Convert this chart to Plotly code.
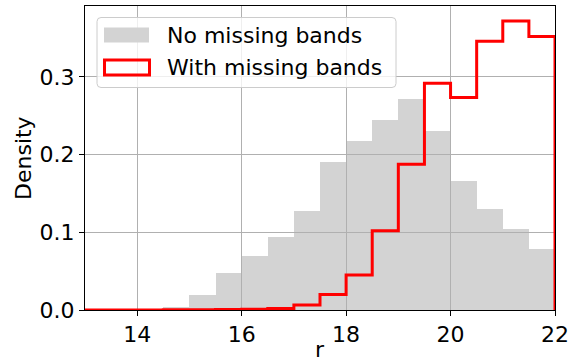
import numpy as np
import plotly.graph_objects as go

# Histogram bin edges (r magnitude) and densities
bin_edges = [13.0, 13.5, 14.0, 14.5, 15.0, 15.5, 16.0, 16.5, 17.0, 17.5,
             18.0, 18.5, 19.0, 19.5, 20.0, 20.5, 21.0, 21.5, 22.0]
no_missing = [0.0, 0.0, 0.0005, 0.004, 0.019, 0.048, 0.070, 0.094, 0.128,
              0.191, 0.218, 0.245, 0.272, 0.230, 0.166, 0.130, 0.104, 0.079]
with_missing = [0.0, 0.0, 0.0, 0.0003, 0.0004, 0.0005, 0.001, 0.002, 0.0065,
                0.020, 0.045, 0.102, 0.1875, 0.292, 0.2735, 0.346, 0.372, 0.352]
x_ticks = [14, 16, 18, 20, 22]
y_ticks = [0.0, 0.1, 0.2, 0.3]
labels = ["No missing bands", "With missing bands"]
x_title = "r"
y_title = "Density"

FONT = "DejaVu Sans"
W, H = 572, 362
ML, MR, MT, MB = 85, 17, 6, 52

edges = np.array(bin_edges)
centers = (edges[:-1] + edges[1:]) / 2
widths = np.diff(edges)

fig = go.Figure()
# grey bars: translucent grey so grid lines read as drawn over them
fig.add_trace(go.Bar(
    x=centers, y=no_missing, width=widths,
    marker=dict(color="rgba(176,176,176,0.557)", line=dict(width=0)),
    name=labels[0], showlegend=False,
))
# red step outline
fig.add_trace(go.Scatter(
    x=list(edges), y=list(with_missing) + [0.0],
    mode="lines", line=dict(color="#ff0000", width=3, shape="hv"),
    name=labels[1], showlegend=False,
))

# ---- manual legend (matplotlib style) ----
def px_x(p):
    return (p - ML) / (W - ML - MR)

def px_y(p):
    return (H - MB - p) / (H - MT - MB)

x0, x1, y0, y1, r = 97, 396, 17.5, 87.5, 4
pts = dict(
    L=px_x(x0), R=px_x(x1), T=px_y(y0), B=px_y(y1),
    rx=r / (W - ML - MR), ry=r / (H - MT - MB),
)
path = (
    f"M {pts['L']+pts['rx']},{pts['T']} "
    f"L {pts['R']-pts['rx']},{pts['T']} Q {pts['R']},{pts['T']} {pts['R']},{pts['T']-pts['ry']} "
    f"L {pts['R']},{pts['B']+pts['ry']} Q {pts['R']},{pts['B']} {pts['R']-pts['rx']},{pts['B']} "
    f"L {pts['L']+pts['rx']},{pts['B']} Q {pts['L']},{pts['B']} {pts['L']},{pts['B']+pts['ry']} "
    f"L {pts['L']},{pts['T']-pts['ry']} Q {pts['L']},{pts['T']} {pts['L']+pts['rx']},{pts['T']} Z"
)
fig.add_shape(type="path", path=path, xref="paper", yref="paper",
              fillcolor="rgba(255,255,255,0.8)",
              line=dict(color="#cccccc", width=1), layer="above")
fig.add_shape(type="rect", xref="paper", yref="paper",
              x0=px_x(104), x1=px_x(149), y0=px_y(27.5), y1=px_y(42.5),
              fillcolor="#d3d3d3", line=dict(width=0), layer="above")
fig.add_shape(type="rect", xref="paper", yref="paper",
              x0=px_x(104.5), x1=px_x(149.5), y0=px_y(60), y1=px_y(75),
              fillcolor="rgba(255,255,255,0)", line=dict(color="#ff0000", width=3),
              layer="above")
for lab, cy in zip(labels, [35, 67.5]):
    fig.add_annotation(text=lab, xref="paper", yref="paper",
                       x=px_x(165), y=px_y(cy), xanchor="left", yanchor="middle",
                       showarrow=False, font=dict(family=FONT, size=22, color="black"))

# axis titles as annotations
fig.add_annotation(text=x_title, xref="paper", yref="paper",
                   x=0.5, y=px_y(349), xanchor="center", yanchor="middle",
                   showarrow=False, font=dict(family=FONT, size=22, color="black"))
fig.add_annotation(text=y_title, xref="paper", yref="paper",
                   x=px_x(23), y=0.5, xanchor="center", yanchor="middle", textangle=-90,
                   showarrow=False, font=dict(family=FONT, size=22, color="black"))

axis_common = dict(
    showgrid=True, gridcolor="#b0b0b0", gridwidth=1,
    showline=True, linecolor="black", linewidth=1, mirror=True,
    ticks="outside", ticklen=5, tickwidth=1, tickcolor="black",
    tickfont=dict(family=FONT, size=22, color="black"),
    zeroline=False, automargin=False,
)
fig.update_layout(
    width=W, height=H,
    margin=dict(l=ML, r=MR, t=MT, b=MB, autoexpand=False),
    paper_bgcolor="white", plot_bgcolor="white",
    bargap=0,
    font=dict(family=FONT, size=22, color="black"),
    xaxis=dict(range=[13, 22], tickvals=x_ticks, ticktext=[str(t) for t in x_ticks],
               **axis_common),
    yaxis=dict(range=[0, 0.3913], tickvals=y_ticks, tickformat=".1f",
               **axis_common),
)

fig.write_html("out.html")
